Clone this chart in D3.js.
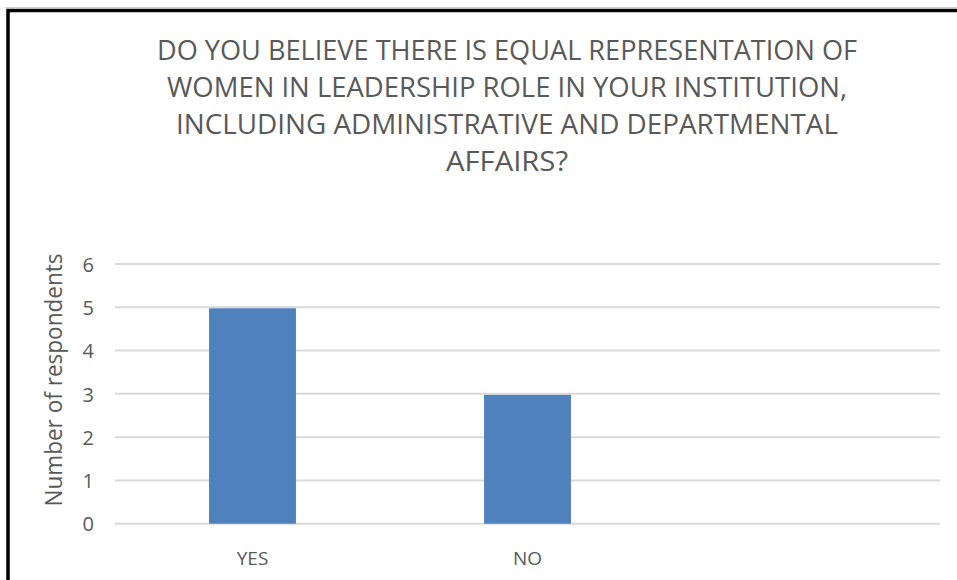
<!DOCTYPE html>
<html>
<head>
<meta charset="utf-8">
<script src="https://cdn.jsdelivr.net/npm/d3@7"></script>
<style>
  html, body { margin: 0; padding: 0; background: #fff; }
  svg { display: block; }
  text { font-family: "Open Sans", Lato, sans-serif; fill: #595959; font-weight: 400; }
</style>
</head>
<body>
<svg id="chart" width="957" height="580"></svg>
<script>
// Survey answers
const categories = ["YES", "NO", ""];
const respondents = [5, 3, null];
const yTicks = [0, 1, 2, 3, 4, 5, 6];
const titleLines = [
  "DO YOU BELIEVE THERE IS EQUAL REPRESENTATION OF",
  "WOMEN IN LEADERSHIP ROLE IN YOUR INSTITUTION,",
  "INCLUDING ADMINISTRATIVE AND DEPARTMENTAL",
  "AFFAIRS?"
];
const yAxisTitle = "Number of respondents";

const W = 957, H = 580;
const FONT = "'Open Sans', Lato, sans-serif";
const svg = d3.select("#chart");

// Chart frame
svg.append("line")
  .attr("x1", 5).attr("x2", W).attr("y1", 7.5).attr("y2", 7.5)
  .attr("stroke", "#cfcfcf").attr("stroke-width", 1);
svg.append("rect")
  .attr("x", 8).attr("y", 10.5)
  .attr("width", W + 20).attr("height", H + 20)
  .attr("fill", "none").attr("stroke", "#000").attr("stroke-width", 3.5);

// Title
const titleWidths = [700, 680, 662, 122];
const title = svg.append("g");
titleLines.forEach((line, i) => {
  title.append("text")
    .attr("x", 507)
    .attr("y", 59.5 + i * 37)
    .attr("text-anchor", "middle")
    .attr("font-size", 26.5)
    .attr("textLength", titleWidths[i])
    .attr("lengthAdjust", "spacingAndGlyphs")
    .text(line);
});

// Scales
const x = d3.scaleBand()
  .domain(categories)
  .range([115, 940])
  .paddingInner(0.684)
  .paddingOuter(0.342);

const y = d3.scaleLinear()
  .domain([0, 6])
  .range([523.7, 264]);

// Gridlines
svg.append("g")
  .selectAll("line")
  .data(yTicks)
  .join("line")
  .attr("x1", 115).attr("x2", 940)
  .attr("y1", d => y(d)).attr("y2", d => y(d))
  .attr("stroke", "#d9d9d9").attr("stroke-width", 2);

// Bars
const data = categories.map((c, i) => ({ c, v: respondents[i] })).filter(d => d.v != null);
svg.append("g")
  .selectAll("rect")
  .data(data)
  .join("rect")
  .attr("x", d => x(d.c))
  .attr("width", x.bandwidth())
  .attr("y", d => y(d.v) + 1)
  .attr("height", d => y(0) - y(d.v) - 1)
  .attr("fill", "#4f81bd");

// Y axis tick labels
const yAxis = d3.axisLeft(y).tickValues(yTicks).tickSize(0).tickPadding(0).tickFormat(d3.format("d"));
const yg = svg.append("g").attr("transform", "translate(94,0)").call(yAxis);
yg.attr("font-family", FONT).attr("font-size", 20);
yg.select(".domain").remove();
yg.selectAll("text")
  .attr("dy", "0.36em")
  .attr("fill", "#595959");

// X axis category labels
const xAxis = d3.axisBottom(x).tickSize(0).tickPadding(0);
const xg = svg.append("g").attr("transform", "translate(0,565)").call(xAxis);
xg.attr("font-family", FONT).attr("font-size", 19);
xg.select(".domain").remove();
xg.selectAll("text")
  .attr("dy", 0)
  .attr("y", 0)
  .attr("fill", "#595959");

// Y axis title
svg.append("text")
  .attr("transform", "translate(62,380) rotate(-90)")
  .attr("text-anchor", "middle")
  .attr("font-size", 23)
  .attr("textLength", 253)
  .attr("lengthAdjust", "spacingAndGlyphs")
  .text(yAxisTitle);
</script>
</body>
</html>
